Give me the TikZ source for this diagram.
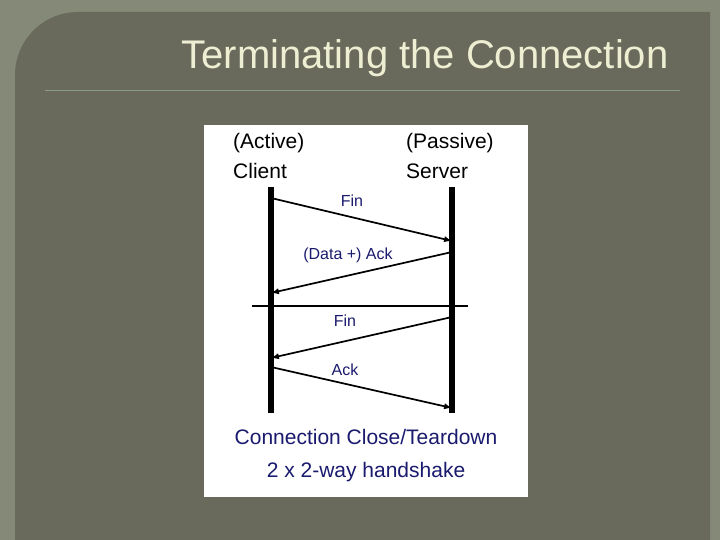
\documentclass[tikz,border=0pt]{standalone}
\usepackage{fontspec}
\setmainfont{Liberation Sans}
\usetikzlibrary{arrows, calc, positioning}
\definecolor{slideouter}{HTML}{858A78}
\definecolor{slidepanel}{HTML}{696A5C}
\definecolor{titletext}{HTML}{EEEED2}
\definecolor{ruleline}{HTML}{8C9A8C}
\definecolor{msgblue}{HTML}{1A1A6E}
\tikzset{
  % time line of one end
  tline/.style={
    line width = 1.8mm
    , line cap=butt
  },
}
\tikzset{
  % message arrow style
  marr/.style={
    line width = 0.6mm
    , >=latex
    , ->
  },
}
\tikzset{
  %message label
  mlabel/.style={
    text=msgblue
    , font=\fontsize{16}{19}\selectfont
    , inner sep=1pt
  },
}
\tikzset{
  %end point label
  elabel/.style={
    font=\fontsize{21}{30}\selectfont
    , align=left
    , anchor=north west
    , inner sep=0pt
  },
}
\begin{document}
\begin{tikzpicture}[x=1pt, y=-1pt]
        \useasboundingbox (0,0) rectangle (720,540);
        \fill[slideouter] (0,0) rectangle (720,540);
        \fill[slidepanel] (15,540) -- (15,75) arc[start angle=180, end angle=270, radius=63]
          -- (710,12) -- (710,540) -- cycle;
        \node[text=titletext, font=\fontsize{40}{46}\selectfont] (title) at (425,58)
          {Terminating the Connection};
        \draw[ruleline, line width=0.8pt] (45,90) -- (680,90);
        \fill[white] (204,125) rectangle (528,497);
        % end points
        \node[elabel] (client) at (233,133) {(Active)\\Client};
        \node[elabel] (server) at (406,133) {(Passive)\\Server};
        \coordinate (c-top) at (271,187);
        \coordinate (c-bot) at (271,413);
        \coordinate (s-top) at (452,187);
        \coordinate (s-bot) at (452,413);
        \draw[tline] (c-top) -- (c-bot);
        \draw[tline] (s-top) -- (s-bot);
        \coordinate (split-l) at (252,306);
        \coordinate (split-r) at (468,306);
        \draw[line width=0.6mm] (split-l) -- (split-r);
        % messages
        \coordinate (c1) at (271,198); \coordinate (s1) at (452,241);
        \coordinate (s2) at (452,252); \coordinate (c2) at (271,293);
        \coordinate (s3) at (452,317); \coordinate (c3) at (271,358);
        \coordinate (c4) at (271,367); \coordinate (s4) at (452,408);
        \draw[marr] (c1) to (s1);
        \draw[marr] (s2) to (c2);
        \draw[marr] (s3) to (c3);
        \draw[marr] (c4) to (s4);
        \node[mlabel] (fin1) at (352,201) {Fin};
        \node[mlabel] (ack1) at (348,255) {(Data +) Ack};
        \node[mlabel] (fin2) at (345,321) {Fin};
        \node[mlabel] (ack2) at (345,370) {Ack};
        \node[text=msgblue, font=\fontsize{21}{33}\selectfont, align=center] (caption)
          at (366,456) {Connection Close/Teardown\\2 x 2-way handshake};
      \end{tikzpicture}
\end{document}
